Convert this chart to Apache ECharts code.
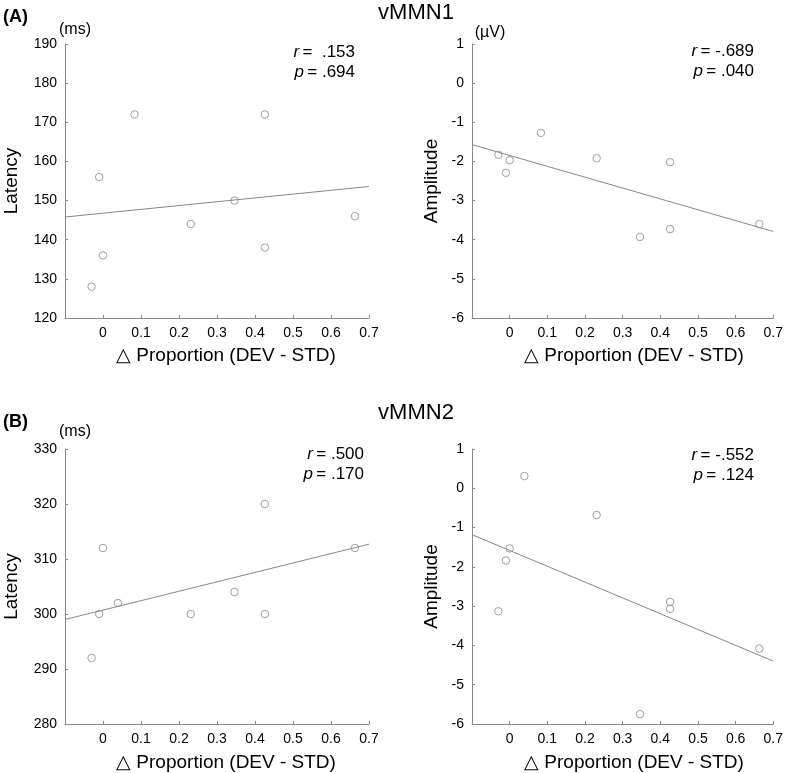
<!DOCTYPE html>
<html><head><meta charset="utf-8">
<script src="https://cdn.jsdelivr.net/npm/echarts@6/dist/echarts.min.js"></script>
<style>html,body{margin:0;padding:0;background:#fff}#c{width:786px;height:773px}</style>
</head><body><div id="c"></div>
<script>
// ---- data ----
const xA = [-0.03, -0.01, 0, 0.083, 0.231, 0.346, 0.426, 0.426, 0.663];
const latencyA = [128, 156, 136, 172, 144, 150, 172, 138, 146];
const amplitudeA = [-1.83, -2.29, -1.97, -1.27, -1.92, -3.93, -2.02, -3.73, -3.60];
const xB = [-0.03, -0.01, 0, 0.039, 0.231, 0.346, 0.426, 0.426, 0.663];
const latencyB = [292, 300, 312, 302, 300, 304, 320, 300, 312];
const amplitudeB = [-3.13, -1.84, -1.53, 0.31, -0.68, -5.75, -2.89, -3.07, -4.08];
const fitX = [-0.1, 0.7];
const fitLatA = [145.8, 153.6];
const fitAmpA = [-1.57, -3.79];
const fitLatB = [299.0, 312.7];
const fitAmpB = [-1.18, -4.40];
const stats = [
  {r: ' .153', p: '.694'},
  {r: '-.689', p: '.040'},
  {r: '.500', p: '.170'},
  {r: '-.552', p: '.124'}
];
const yRanges = [[120, 190, 10], [-6, 1, 1], [280, 330, 10], [-6, 1, 1]];
const yNames = ['Latency', 'Amplitude', 'Latency', 'Amplitude'];
const titles = ['vMMN1', 'vMMN2'];
const panelLabels = ['(A)', '(B)'];
const units = ['(ms)', '(\u00b5V)', '(ms)'];
const xName = '\u25b3 Proportion (DEV - STD)';

// ---- layout ----
const FONT = '"Liberation Sans", Arial, sans-serif';
const GRAY = '#8a8a8a';
const grids = [
  {left: 65, top: 44, width: 304, height: 274},
  {left: 472, top: 44, width: 304, height: 274},
  {left: 65, top: 449, width: 304, height: 275},
  {left: 472, top: 449, width: 304, height: 275}
];
const pairs = [[xA, latencyA, fitLatA], [xA, amplitudeA, fitAmpA], [xB, latencyB, fitLatB], [xB, amplitudeB, fitAmpB]];

const xAxis = grids.map((g, i) => ({
  gridIndex: i, type: 'value', min: -0.1, max: 0.7, interval: 0.1,
  axisLine: {onZero: false, lineStyle: {color: GRAY, width: 1}},
  axisTick: {inside: true, length: 3, lineStyle: {color: GRAY}},
  splitLine: {show: false},
  axisLabel: {color: '#000', fontFamily: FONT, fontSize: 14, margin: 8,
    formatter: v => (v < -0.05 ? '' : (Math.abs(v) < 1e-9 ? '0' : (+v.toFixed(1)).toString()))}
}));
const yAxis = grids.map((g, i) => ({
  gridIndex: i, type: 'value', min: yRanges[i][0], max: yRanges[i][1], interval: yRanges[i][2],
  axisLine: {show: true, onZero: false, lineStyle: {color: GRAY, width: 1}},
  axisTick: {show: true, inside: true, length: 3, lineStyle: {color: GRAY}},
  splitLine: {show: false},
  axisLabel: {color: '#000', fontFamily: FONT, fontSize: 14, margin: 8},
  name: yNames[i], nameLocation: 'middle', nameGap: i % 2 === 0 ? 44 : 31,
  nameTextStyle: {color: '#000', fontFamily: FONT, fontSize: 19}
}));
const series = [];
pairs.forEach((p, i) => {
  series.push({
    type: 'scatter', xAxisIndex: i, yAxisIndex: i,
    data: p[0].map((x, k) => [x, p[1][k]]),
    symbol: 'circle', symbolSize: 7.5,
    itemStyle: {color: 'rgba(255,255,255,0)', borderColor: '#888', borderWidth: 1}
  });
  series.push({
    type: 'line', xAxisIndex: i, yAxisIndex: i,
    data: fitX.map((x, k) => [x, p[2][k]]),
    symbol: 'none', lineStyle: {color: '#888', width: 1}
  });
});

const graphic = [];
const txt = (x, y, text, opts) => graphic.push({type: 'text', x, y,
  style: Object.assign({text, fill: '#000', font: '14px ' + FONT, textAlign: 'left', textVerticalAlign: 'middle'}, opts || {})});
txt(416, 13, titles[0], {font: '22px ' + FONT, textAlign: 'center'});
txt(416, 413, titles[1], {font: '22px ' + FONT, textAlign: 'center'});
txt(3, 17, panelLabels[0], {font: 'bold 18px ' + FONT});
txt(3, 422, panelLabels[1], {font: 'bold 18px ' + FONT});
txt(75, 30, units[0], {font: '16px ' + FONT, textAlign: 'center'});
txt(490, 33, units[1], {font: '16px ' + FONT, textAlign: 'center'});
txt(75, 432, units[2], {font: '16px ' + FONT, textAlign: 'center'});
// x axis names
txt(226, 356, xName, {font: '19px ' + FONT, textAlign: 'center'});
txt(634, 356, xName, {font: '19px ' + FONT, textAlign: 'center'});
txt(226, 763, xName, {font: '19px ' + FONT, textAlign: 'center'});
txt(634, 763, xName, {font: '19px ' + FONT, textAlign: 'center'});
// stats
const statPos = [[355, 52], [754, 51], [364, 454], [754, 455]];
stats.forEach((s, i) => {
  const [x, y] = statPos[i];
  const rich = {i: {fontStyle: 'italic', fontFamily: FONT, fontSize: 17, fill: '#000'},
                n: {fontFamily: FONT, fontSize: 17, fill: '#000'}};
  graphic.push({type: 'text', x, y, style: {rich,
    text: '{i|r} {n|= ' + s.r + '}', textAlign: 'right', textVerticalAlign: 'middle'}});
  graphic.push({type: 'text', x, y: y + 20, style: {rich,
    text: '{i|p} {n|= ' + s.p + '}', textAlign: 'right', textVerticalAlign: 'middle'}});
});

const chart = echarts.init(document.getElementById('c'), null, {renderer: 'canvas'});
chart.setOption({
  animation: false, backgroundColor: '#fff',
  grid: grids, xAxis, yAxis, series, graphic
});
</script></body></html>
